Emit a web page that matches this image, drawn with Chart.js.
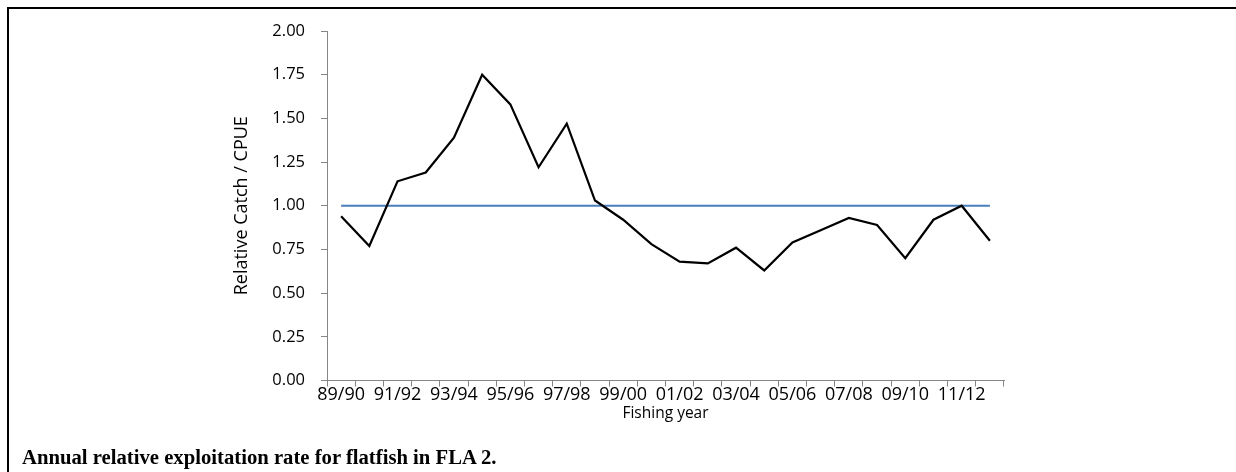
<!DOCTYPE html>
<html>
<head>
<meta charset="utf-8">
<script src="https://cdn.jsdelivr.net/npm/chart.js"></script>
<style>
  html, body { margin: 0; padding: 0; background: #fff; }
  #wrap { position: relative; width: 1236px; height: 472px; overflow: hidden; }
  #frame { position: absolute; left: 7px; top: 7px; width: 1300px; height: 500px;
           border-left: 2px solid #000; border-top: 2px solid #000; }
  #grafica { position: absolute; left: 0; top: 0; }
  #caption { position: absolute; left: 22px; top: 446px; font: bold 20.7px "Liberation Serif", "Times New Roman", serif;
             color: #000; white-space: nowrap; }
</style>
</head>
<body>
<div id="wrap">
  <div id="frame"></div>
  <canvas id="grafica" width="1236" height="472"></canvas>
  <div id="caption">Annual relative exploitation rate for flatfish in FLA 2.</div>
</div>
<script>
const years = ['89/90', '90/91', '91/92', '92/93', '93/94', '94/95', '95/96', '96/97',
  '97/98', '98/99', '99/00', '00/01', '01/02', '02/03', '03/04', '04/05', '05/06',
  '06/07', '07/08', '08/09', '09/10', '10/11', '11/12', '12/13'];
const relativeCatch = [0.94, 0.77, 1.14, 1.19, 1.39, 1.75, 1.58, 1.22, 1.47, 1.03, 0.92, 0.78,
  0.68, 0.67, 0.76, 0.63, 0.79, 0.86, 0.93, 0.89, 0.70, 0.92, 1.00, 0.80];
const reference = [1, 1, 1, 1, 1, 1, 1, 1, 1, 1, 1, 1, 1, 1, 1, 1, 1, 1, 1, 1, 1, 1, 1, 1];
const yTicks = [0, 0.25, 0.5, 0.75, 1, 1.25, 1.5, 1.75, 2];

const axisColor = '#868686';
Chart.defaults.font.family = "'Open Sans', sans-serif";
Chart.defaults.color = '#000';

const graph = document.querySelector('#grafica');

const data = {
  labels: years,
  datasets: [
    {
      data: relativeCatch,
      borderColor: '#000',
      borderWidth: 2.2,
      pointRadius: 0,
      tension: 0,
    },
    {
      data: reference,
      borderColor: '#4a7ebb',
      borderWidth: 2,
      pointRadius: 0,
    }
  ]
};

const config = {
  type: 'line',
  data: data,
  options: {
    responsive: false,
    animation: false,
    layout: { padding: { left: 231, top: 31, right: 232, bottom: 49 } },
    plugins: { legend: { display: false }, tooltip: { enabled: false } },
    scales: {
      x: {
        offset: true,
        grid: { offset: true, drawOnChartArea: false, tickLength: 6, color: axisColor },
        border: { color: axisColor },
        ticks: {
          autoSkip: false, maxRotation: 0, minRotation: 0, padding: -2,
          font: { size: 18 },
          callback: function (val, i) { return i % 2 === 0 ? this.getLabelForValue(val) : ''; }
        },
        title: { display: true, text: 'Fishing year', font: { size: 15.5 }, padding: 0 },
        afterFit: (scale) => { scale.height = 42.5; }
      },
      y: {
        min: 0,
        max: 2,
        afterBuildTicks: (scale) => { scale.ticks = yTicks.map(v => ({ value: v })); },
        grid: { drawOnChartArea: false, tickLength: 6, color: axisColor },
        border: { color: axisColor },
        ticks: { padding: 16, font: { size: 16.5 }, callback: (v) => Number(v).toFixed(2) },
        title: { display: true, text: 'Relative Catch / CPUE', font: { size: 18 }, padding: 0 },
        afterFit: (scale) => { scale.width = 96; }
      }
    }
  }
};

const myChart = new Chart(graph, config);
</script>
</body>
</html>
